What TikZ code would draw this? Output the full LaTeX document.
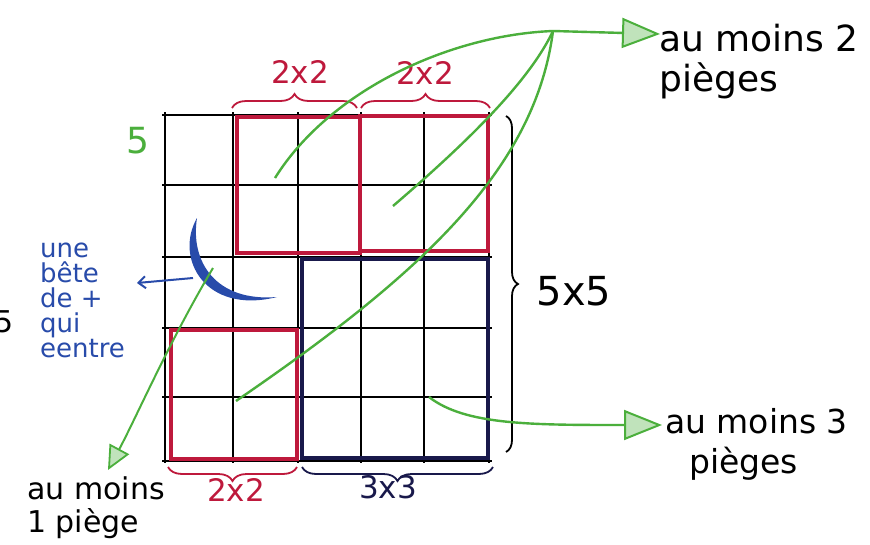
\documentclass[tikz,border=0pt]{standalone}
\usepackage{fontspec}
\setmainfont{DejaVu Sans}
\usetikzlibrary{arrows.meta,decorations.pathreplacing}
\definecolor{rouge}{RGB}{190,25,60}
\definecolor{marine}{RGB}{25,25,75}
\definecolor{vert}{RGB}{75,175,60}
\definecolor{bleu}{RGB}{40,75,170}
\begin{document}
\begin{tikzpicture}[x=1pt,y=-1pt,
  gridline/.style={black,line width=1.9pt},
  redbox/.style={rouge,line width=4.2pt},
  navybox/.style={marine,line width=4.8pt},
  greenline/.style={vert,line width=2.4pt},
  greenarrow/.style={vert,line width=2.4pt,-{Triangle[length=38pt,width=30pt,fill=vert!35,line width=2pt]}},
  smallarrow/.style={vert,line width=2pt,-{Triangle[length=24pt,width=22pt,fill=vert!35,line width=1.8pt]}},
  bracestyle/.style={line width=1.8pt,decorate,decoration={brace,amplitude=14pt}},
  lbl/.style={inner sep=0pt,align=left,font=\fontsize{36}{40}\selectfont},
  sizelbl/.style={inner sep=0pt,font=\fontsize{31}{34}\selectfont}]
\useasboundingbox (0,0) rectangle (870,544);
\fill[white] (0,0) rectangle (870,544);
% grid
\foreach \x in {165,233,298,361,424,489} \draw[gridline] (\x,112) -- (\x,463);
\foreach \y in {115,185,257,328,397,461} \draw[gridline] (162,\y) -- (492,\y);
% red 2x2 boxes
\draw[redbox] (237,117) rectangle (360,253);
\draw[redbox] (360,116) rectangle (488,251);
\draw[redbox] (171,330) rectangle (297,459);
% navy 3x3
\draw[navybox] (302,259) rectangle (488,458);
% braces
\draw[bracestyle,rouge] (232,108) -- (357,108);
\draw[bracestyle,rouge] (361,108) -- (490,108);
\draw[bracestyle,rouge] (297,467) -- (168,467);
\draw[bracestyle,marine] (493,467) -- (302,467);
\draw[bracestyle,black,decoration={brace,amplitude=12pt}] (506,116) -- (506,452);
% size labels
\node[sizelbl,rouge] (t1) at (300,72) {2x2};
\node[sizelbl,rouge] (t2) at (425,73) {2x2};
\node[sizelbl,rouge] (b1) at (236,490) {2x2};
\node[sizelbl,marine] (b2) at (388,487) {3x3};
\node[inner sep=0pt,font=\fontsize{40}{44}\selectfont] (n55) at (574,291) {5x5};
\node[inner sep=0pt,vert,font=\fontsize{36}{40}\selectfont] (g5) at (138,141) {5};
\node[inner sep=0pt,anchor=east,font=\fontsize{30}{34}\selectfont] (l5) at (14,322) {5};
% blue crescent and note
\fill[bleu] (197,218) .. controls (174,258) and (205,315) .. (277,297)
  .. controls (216,302) and (190,262) .. (197,218);
\node[inner sep=0pt,bleu,align=left,anchor=north west,font=\fontsize{26}{25}\selectfont] (note) at (40,243)
  {une\\bête\\de +\\qui\\eentre};
\coordinate (bs) at (193,278);
\coordinate (bt) at (137,283);
\draw[bleu,line width=2pt,-{Straight Barb[length=7pt,width=12pt]}] (bs) -- (bt);
% result labels
\node[lbl,anchor=north west] (m2) at (659,24) {au moins 2\\pièges};
\node[lbl,anchor=north west,font=\fontsize{33}{40}\selectfont] (m3) at (665,408) {au moins 3\\\hspace*{24pt}pièges};
\node[lbl,anchor=north west,font=\fontsize{30}{33}\selectfont] (m1) at (27,476) {au moins\\1 piège};
% green connectors
\coordinate (hub) at (553,31);
\coordinate (a1) at (275,178);
\coordinate (b1s) at (393,206);
\coordinate (c1) at (236,401);
\coordinate (d1) at (213,268);
\coordinate (e1) at (429,397);
\coordinate (tip2) at (660,34);
\coordinate (tip3) at (662,425);
\coordinate (tip1) at (108,470);
\draw[greenline] (b1s) .. controls (470,140) and (530,80) .. (hub);
\draw[greenline] (c1) .. controls (420,275) and (535,170) .. (hub);
\draw[greenarrow] (a1) .. controls (330,90) and (450,35) .. (hub) -- (tip2);
\draw[smallarrow] (d1) .. controls (170,340) and (135,420) .. (tip1);
\draw[greenarrow] (e1) .. controls (465,425) and (530,425) .. (tip3);
\end{tikzpicture}
\end{document}
